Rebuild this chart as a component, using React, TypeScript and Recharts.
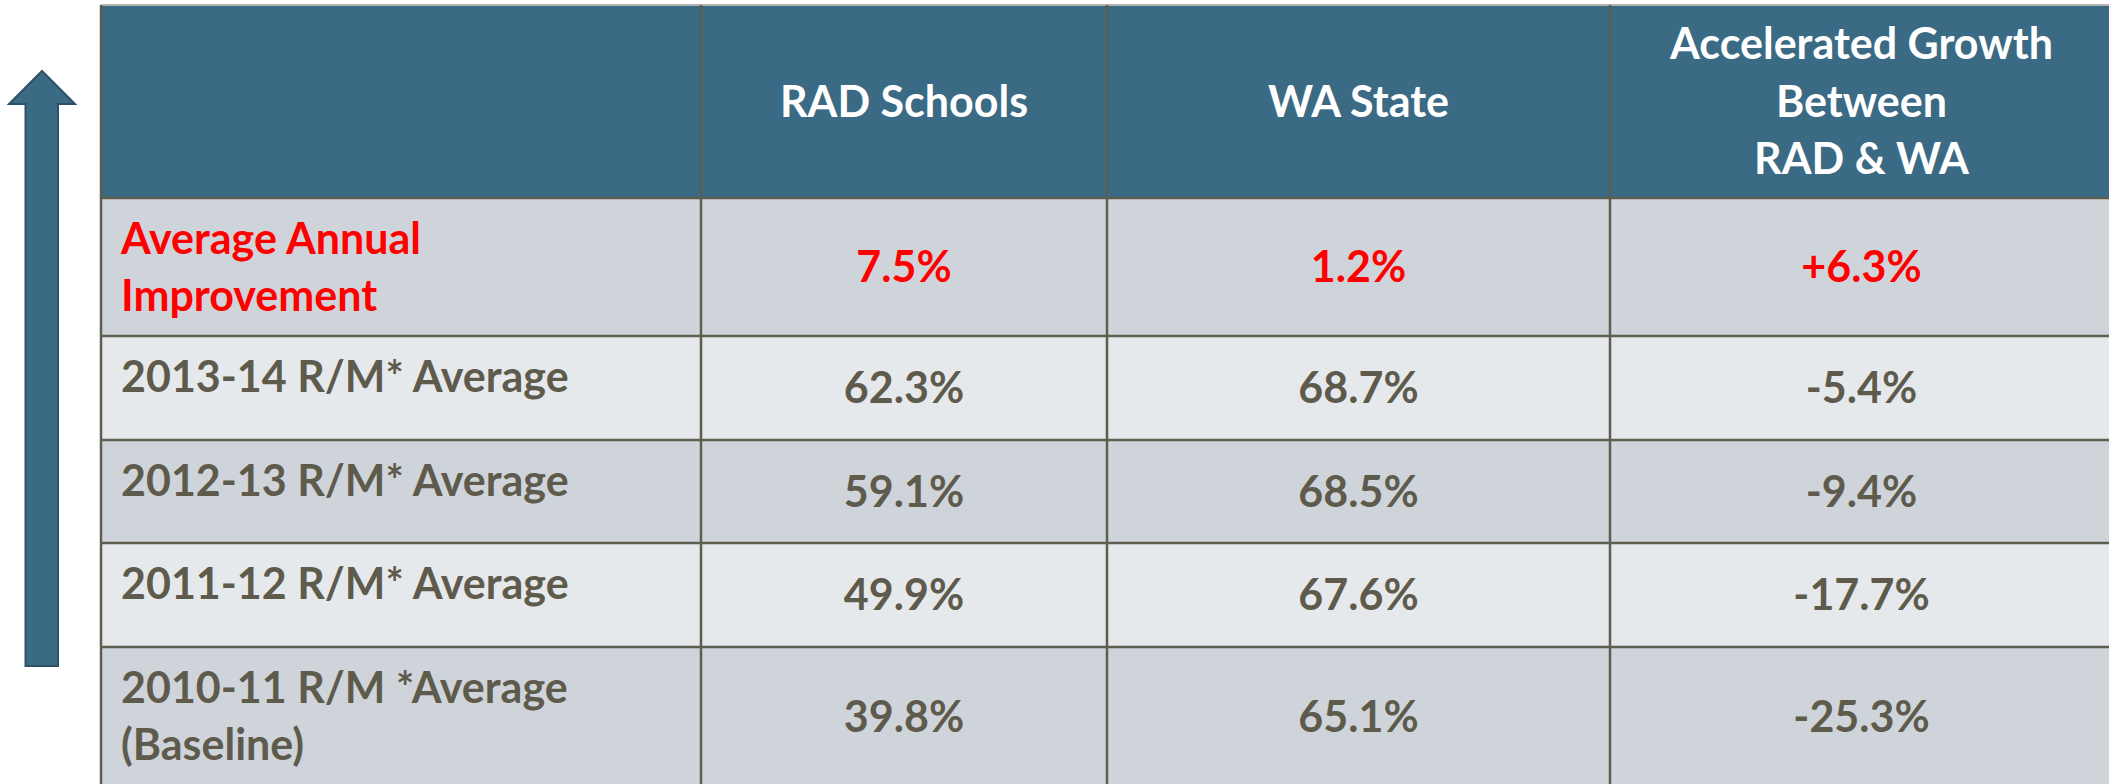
import { BarChart, Customized } from "recharts";

// table content
const headers = [[], ["RAD Schools"], ["WA State"], ["Accelerated Growth", "Between", "RAD & WA"]];
const rowLabels = [
  ["Average Annual", "Improvement"],
  ["2013-14 R/M* Average"],
  ["2012-13 R/M* Average"],
  ["2011-12 R/M* Average"],
  ["2010-11 R/M *Average", "(Baseline)"],
];
const radSchools = [7.5, 62.3, 59.1, 49.9, 39.8];
const waState = [1.2, 68.7, 68.5, 67.6, 65.1];
const growth = [6.3, -5.4, -9.4, -17.7, -25.3];

const rows = rowLabels.map((label, i) => ({
  label,
  rad: radSchools[i],
  wa: waState[i],
  growth: growth[i],
}));

const W = 2109;
const H = 784;
const COL_X = [101, 701, 1107, 1610, 2113];
const ROW_Y = [5, 198, 336, 440, 543, 647, 787];
const HEADER_BG = "#3b6a84";
const ROW_DARK = "#cfd4db";
const ROW_LIGHT = "#e6e9ec";
const LINE = "#5e5e50";
const TEXT = "#5e5b4d";
const RED = "#ff0000";
const FONT = "Lato, 'Open Sans', sans-serif";
const FS = 43;

const pct = (v: number, signed = false) => (signed && v > 0 ? "+" : "") + v.toFixed(1) + "%";

function Table() {
  const cx = (c: number) => (COL_X[c] + COL_X[c + 1]) / 2;
  const out: any[] = [];

  // arrow
  out.push(
    <polygon
      key="arrow"
      points="42,71 75,104 58,104 58,666 25.5,666 25.5,104 9,104"
      fill={HEADER_BG}
      stroke="#2e5068"
      strokeWidth={2}
    />
  );

  // header
  out.push(
    <rect key="hbg" x={COL_X[0]} y={ROW_Y[0]} width={COL_X[4] - COL_X[0] + 20} height={ROW_Y[1] - ROW_Y[0]} fill={HEADER_BG} />
  );
  headers.forEach((lines, c) => {
    const mid = (ROW_Y[0] + ROW_Y[1]) / 2 + 15;
    lines.forEach((t, j) =>
      out.push(
        <text
          key={`h${c}${j}`}
          x={cx(c)}
          y={mid + (j - (lines.length - 1) / 2) * 57.5}
          textAnchor="middle"
          fill="#ffffff"
          fontFamily={FONT}
          fontWeight="bold"
          fontSize={FS}
        >
          {t}
        </text>
      )
    );
  });

  // body rows
  rows.forEach((r, i) => {
    const top = ROW_Y[i + 1];
    const bot = ROW_Y[i + 2];
    const color = i === 0 ? RED : TEXT;
    out.push(
      <rect key={`bg${i}`} x={COL_X[0]} y={top} width={COL_X[4] - COL_X[0] + 20} height={bot - top} fill={i % 2 === 0 ? ROW_DARK : ROW_LIGHT} />
    );
    r.label.forEach((t, j) =>
      out.push(
        <text key={`l${i}${j}`} x={121} y={top + 56 + j * 57} fill={color} fontFamily={FONT} fontWeight="bold" fontSize={FS}>
          {t}
        </text>
      )
    );
    const vals = [pct(r.rad), pct(r.wa), pct(r.growth, true)];
    vals.forEach((t, c) =>
      out.push(
        <text
          key={`v${i}${c}`}
          x={cx(c + 1)}
          y={(top + bot) / 2 + 15}
          textAnchor="middle"
          fill={color}
          fontFamily={FONT}
          fontWeight="bold"
          fontSize={FS}
        >
          {t}
        </text>
      )
    );
  });

  // grid lines
  out.push(<line key="top" x1={COL_X[0]} x2={W} y1={ROW_Y[0]} y2={ROW_Y[0]} stroke="#b5b5b0" strokeWidth={2} />);
  ROW_Y.slice(1).forEach((y, i) =>
    out.push(<line key={`hr${i}`} x1={COL_X[0]} x2={W} y1={y} y2={y} stroke={LINE} strokeWidth={2.5} />)
  );
  COL_X.slice(0, 4).forEach((x, i) =>
    out.push(<line key={`vr${i}`} x1={x} x2={x} y1={ROW_Y[0]} y2={H} stroke={LINE} strokeWidth={2.5} />)
  );

  return <g>{out}</g>;
}

export default function App() {
  return (
    <div style={{ position: "absolute", left: 0, top: 0, width: W, height: H, background: "#fff" }}>
      <BarChart width={W} height={H} data={rows} margin={{ top: 0, right: 0, left: 0, bottom: 0 }}>
        <Customized component={<Table />} />
      </BarChart>
    </div>
  );
}
